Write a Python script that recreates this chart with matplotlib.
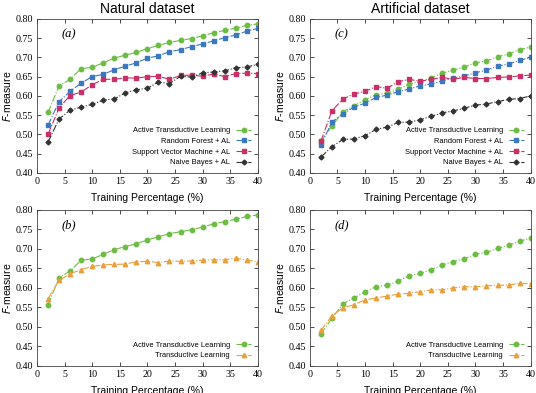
import matplotlib
matplotlib.use("Agg")
import matplotlib.pyplot as plt

train_pct = [2, 4, 6, 8, 10, 12, 14, 16, 18, 20, 22, 24, 26, 28, 30, 32, 34, 36, 38, 40]

# natural dataset
nat_atl = [0.557, 0.626, 0.643, 0.671, 0.674, 0.686, 0.698, 0.706, 0.713, 0.723,
           0.731, 0.739, 0.744, 0.749, 0.756, 0.764, 0.770, 0.776, 0.783, 0.787]
nat_rf = [0.524, 0.585, 0.612, 0.633, 0.650, 0.656, 0.668, 0.677, 0.686, 0.698,
          0.704, 0.715, 0.720, 0.728, 0.735, 0.743, 0.751, 0.758, 0.768, 0.775]
nat_svm = [0.500, 0.569, 0.601, 0.610, 0.629, 0.643, 0.643, 0.647, 0.646, 0.650,
           0.651, 0.643, 0.653, 0.654, 0.651, 0.657, 0.650, 0.658, 0.659, 0.658]
nat_nb = [0.480, 0.540, 0.563, 0.571, 0.578, 0.589, 0.592, 0.608, 0.616, 0.620,
          0.636, 0.632, 0.651, 0.649, 0.660, 0.662, 0.665, 0.673, 0.675, 0.682]
nat_tl = [0.572, 0.619, 0.636, 0.647, 0.655, 0.659, 0.660, 0.661, 0.667, 0.668,
          0.665, 0.669, 0.668, 0.669, 0.671, 0.672, 0.672, 0.676, 0.671, 0.667]

# artificial dataset
art_atl = [0.482, 0.522, 0.559, 0.574, 0.590, 0.603, 0.607, 0.617, 0.631, 0.637,
           0.647, 0.659, 0.667, 0.675, 0.686, 0.691, 0.701, 0.709, 0.720, 0.727]
art_rf = [0.472, 0.532, 0.553, 0.571, 0.581, 0.596, 0.602, 0.611, 0.618, 0.626,
          0.631, 0.639, 0.646, 0.652, 0.660, 0.667, 0.677, 0.683, 0.692, 0.700]
art_svm = [0.482, 0.561, 0.592, 0.605, 0.612, 0.624, 0.620, 0.637, 0.643, 0.638,
           0.643, 0.648, 0.643, 0.648, 0.645, 0.645, 0.648, 0.649, 0.652, 0.654]
art_nb = [0.441, 0.468, 0.487, 0.488, 0.497, 0.513, 0.519, 0.531, 0.532, 0.538,
          0.547, 0.556, 0.561, 0.568, 0.576, 0.579, 0.585, 0.591, 0.593, 0.600]
art_tl = [0.491, 0.528, 0.549, 0.557, 0.569, 0.574, 0.579, 0.584, 0.586, 0.590,
          0.595, 0.595, 0.600, 0.603, 0.603, 0.605, 0.607, 0.607, 0.612, 0.611]

yticks = [0.40, 0.45, 0.50, 0.55, 0.60, 0.65, 0.70, 0.75, 0.80]
xticks = [0, 5, 10, 15, 20, 25, 30, 35, 40]

styles = {
    "Active Transductive Learning": dict(color="#6dbd45", marker="o", ms=3.2),
    "Random Forest + AL": dict(color="#3b78c0", marker="s", ms=3.2),
    "Support Vector Machine + AL": dict(color="#c92f68", marker="s", ms=2.2),
    "Naive Bayes + AL": dict(color="#333333", marker="D", ms=2.5),
    "Transductive Learning": dict(color="#e8a03c", marker="^", ms=3.2),
}

sans = ["Liberation Sans", "DejaVu Sans"]
serif = ["Liberation Serif", "DejaVu Serif"]

fig = plt.figure(figsize=(5.36, 3.93), dpi=100)
boxes = {
    "a": [0.069, 0.560, 0.412, 0.392],
    "c": [0.578, 0.560, 0.412, 0.392],
    "b": [0.069, 0.069, 0.412, 0.397],
    "d": [0.578, 0.069, 0.412, 0.397],
}
panels = {
    "a": [("Active Transductive Learning", nat_atl), ("Random Forest + AL", nat_rf),
          ("Support Vector Machine + AL", nat_svm), ("Naive Bayes + AL", nat_nb)],
    "c": [("Active Transductive Learning", art_atl), ("Random Forest + AL", art_rf),
          ("Support Vector Machine + AL", art_svm), ("Naive Bayes + AL", art_nb)],
    "b": [("Active Transductive Learning", nat_atl), ("Transductive Learning", nat_tl)],
    "d": [("Active Transductive Learning", art_atl), ("Transductive Learning", art_tl)],
}
titles = {"a": "Natural dataset", "c": "Artificial dataset"}

for key, box in boxes.items():
    ax = fig.add_axes(box)
    for name, vals in panels[key]:
        st = styles[name]
        ax.plot(train_pct, vals, color=st["color"], marker=st["marker"],
                ms=st["ms"], lw=0.8, ls="-.", label=name)
    ax.set_xlim(0, 40)
    ax.set_ylim(0.40, 0.80)
    ax.set_xticks(xticks)
    ax.set_yticks(yticks)
    ax.set_xticklabels([str(t) for t in xticks], fontfamily=serif, fontsize=7.2)
    ax.set_yticklabels(["%.2f" % t for t in yticks], fontfamily=serif, fontsize=7.2)
    ax.tick_params(direction="in", length=3, width=0.5, top=True, right=True, pad=3)
    for sp in ax.spines.values():
        sp.set_linewidth(0.6)
        sp.set_color("#444444")
    ax.set_xlabel("Training Percentage (%)", fontfamily=sans, fontsize=7.5, labelpad=5)
    ax.set_ylabel("$F$-measure", fontfamily=sans, fontsize=7.5, labelpad=1.5)
    ax.text(0.11, 0.88, "(%s)" % key, transform=ax.transAxes, fontfamily=serif,
            fontstyle="italic", fontsize=9)
    if key in titles:
        ax.set_title(titles[key], fontfamily=sans, fontsize=10, pad=4)
    ax.legend(loc="lower right", frameon=False, markerfirst=False,
              prop=dict(family=sans, size=5.4), handlelength=2.0,
              labelspacing=0.45, borderaxespad=0.5)

fig.savefig("out.png", dpi=100)
